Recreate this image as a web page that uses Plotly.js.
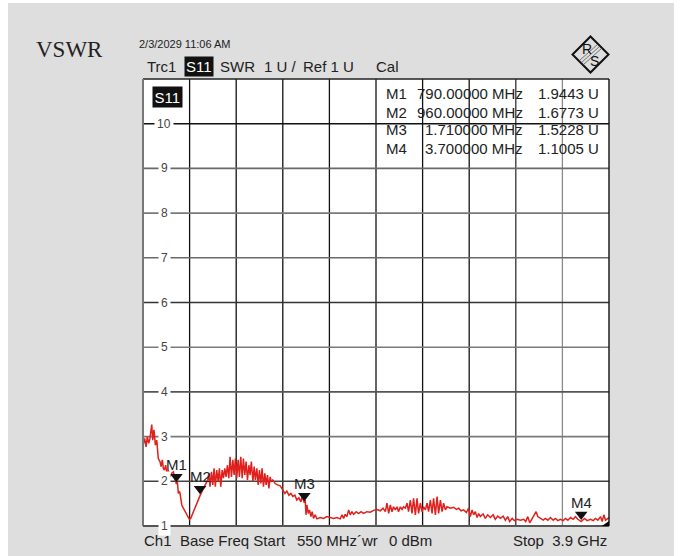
<!DOCTYPE html>
<html>
<head>
<meta charset="utf-8">
<script src="https://cdn.plot.ly/plotly-3.0.1.min.js"></script>
<style>html,body{margin:0;padding:0;background:#fff;}#chart{width:690px;height:556px;}</style>
</head>
<body>
<div id="chart"></div>
<script>
// ---- data ----
const startMHz = 550;
const stopMHz = 3900;
const yMin = 1;
const yMax = 11;
const yTickLabels = [1, 2, 3, 4, 5, 6, 7, 8, 9, 10];

const freqMHz = [550,562,572,581,591,600,613,620,629,639,649,660,672,680,689,696,703,713,721,732,744,757,768,790,797,804,814,821,829,840,865,883,893,912,937,960,984,1003,1016,1023,1032,1042,1052,1061,1070,1080,1090,1099,1109,1119,1128,1138,1147,1157,1167,1176,1186,1196,1205,1214,1224,1234,1243,1253,1263,1272,1282,1291,1301,1311,1320,1329,1340,1349,1358,1368,1378,1387,1397,1406,1416,1426,1435,1445,1455,1464,1473,1483,1500,1517,1536,1555,1570,1584,1599,1613,1627,1642,1656,1671,1685,1694,1710,1716,1722,1728,1738,1747,1757,1766,1776,1788,1800,1824,1848,1872,1896,1920,1944,1968,1980,1992,2004,2016,2028,2040,2052,2064,2083,2100,2117,2136,2160,2184,2208,2232,2256,2275,2292,2304,2316,2328,2340,2351,2364,2376,2387,2400,2412,2423,2436,2448,2459,2472,2484,2495,2508,2520,2531,2544,2556,2567,2580,2592,2603,2616,2628,2639,2652,2664,2675,2688,2700,2711,2724,2736,2760,2783,2803,2819,2837,2855,2875,2891,2903,2916,2927,2939,2952,2963,2975,2995,3011,3028,3047,3067,3083,3100,3119,3139,3155,3172,3186,3204,3220,3240,3263,3287,3301,3316,3330,3348,3364,3376,3388,3407,3427,3443,3460,3479,3499,3515,3532,3551,3571,3587,3604,3623,3643,3659,3676,3700,3710,3724,3743,3767,3787,3803,3820,3839,3851,3863,3875,3887,3900];
const vswr = [2.80,2.96,2.77,3.00,2.85,2.96,3.27,2.92,3.15,2.81,2.92,2.51,2.44,2.33,2.48,2.29,2.25,2.36,2.18,2.25,2.10,2.18,2.21,1.94,1.99,1.73,1.77,1.66,1.47,1.40,1.25,1.15,1.17,1.32,1.51,1.68,1.84,1.95,2.03,2.18,1.88,2.21,1.92,2.29,1.88,2.25,1.99,2.29,1.88,2.25,2.07,2.29,2.10,2.36,2.07,2.55,2.10,2.48,2.14,2.51,2.07,2.48,2.10,2.55,2.07,2.51,2.14,2.44,2.03,2.36,2.14,2.44,1.99,2.33,2.03,2.29,1.92,2.25,1.95,2.29,1.88,2.18,1.92,2.14,1.84,2.10,1.99,2.03,1.95,1.92,1.90,1.81,1.73,1.78,1.69,1.73,1.66,1.69,1.58,1.63,1.54,1.66,1.52,1.58,1.25,1.47,1.28,1.36,1.21,1.32,1.17,1.25,1.16,1.19,1.17,1.21,1.19,1.17,1.19,1.16,1.25,1.17,1.26,1.21,1.36,1.25,1.32,1.26,1.32,1.28,1.32,1.28,1.32,1.31,1.35,1.37,1.34,1.40,1.32,1.51,1.28,1.47,1.32,1.43,1.36,1.43,1.32,1.43,1.37,1.43,1.40,1.51,1.32,1.58,1.28,1.62,1.25,1.62,1.28,1.51,1.32,1.43,1.36,1.51,1.32,1.58,1.28,1.62,1.25,1.66,1.28,1.58,1.32,1.51,1.36,1.43,1.40,1.42,1.37,1.40,1.34,1.36,1.30,1.40,1.21,1.36,1.25,1.32,1.19,1.28,1.21,1.27,1.17,1.25,1.19,1.25,1.15,1.22,1.17,1.22,1.13,1.21,1.10,1.17,1.12,1.15,1.13,1.15,1.10,1.21,1.07,1.17,1.28,1.32,1.21,1.17,1.13,1.17,1.13,1.19,1.13,1.17,1.12,1.15,1.12,1.17,1.13,1.19,1.15,1.21,1.15,1.10,1.13,1.17,1.12,1.15,1.12,1.17,1.13,1.21,1.10,1.25,1.13,1.15,1.19];

const markerNames = ["M1", "M2", "M3", "M4"];
const markerFreqMHz = [790, 960, 1710, 3700];
const markerVals = [1.9443, 1.6773, 1.5228, 1.1005];
const markerFreqText = ["790.00000 MHz", "960.00000 MHz", "1.710000 MHz", "3.700000 MHz"];
const markerValText = ["1.9443 U", "1.6773 U", "1.5228 U", "1.1005 U"];

// ---- layout helpers (pixel -> paper) ----
const L = 143, R = 81, T = 79, B = 30, WW = 690, HH = 556;
const PW = WW - L - R, PH = HH - T - B;
const PX = x => (x - L) / PW;
const PY = y => (HH - B - y) / PH;
const SANS = "Liberation Sans, Arial, sans-serif";
const pxPerU = PH / (yMax - yMin);

const shapes = [];
const annotations = [];

// white strips around the gray sheet
shapes.push({type:'rect', xref:'paper', yref:'paper', x0:PX(0), x1:PX(8), y0:PY(HH+10), y1:PY(-10), fillcolor:'#fff', line:{width:0}, layer:'below'});
shapes.push({type:'rect', xref:'paper', yref:'paper', x0:PX(0), x1:PX(WW), y0:PY(3), y1:PY(-10), fillcolor:'#fff', line:{width:0}, layer:'below'});
shapes.push({type:'rect', xref:'paper', yref:'paper', x0:PX(674), x1:PX(WW+10), y0:PY(HH+10), y1:PY(-10), fillcolor:'#fff', line:{width:0}, layer:'below'});

// grid lines
const nDiv = 10;
const vColors = ['#111','#111','#111','#111','#111','#111','#111','#333','#8a8a8a'];
for (let i = 1; i < nDiv; i++) {
  const f = startMHz + (stopMHz - startMHz) * i / nDiv;
  shapes.push({type:'line', xref:'x', yref:'paper', x0:f, x1:f, y0:0, y1:1, line:{color:vColors[i-1], width:1.3}, layer:'below'});
}
const hColors = {2:'#444',3:'#7a7a7a',4:'#555',5:'#7a7a7a',6:'#333',7:'#6a6a6a',8:'#7a7a7a',9:'#6a6a6a',10:'#111'};
for (let v = 2; v <= 10; v++) {
  shapes.push({type:'line', xref:'paper', yref:'y', x0:0, x1:1, y0:v, y1:v, line:{color:hColors[v], width:1.6}, layer:'below'});
}
// frame
shapes.push({type:'line', xref:'paper', yref:'paper', x0:0, x1:1, y0:1, y1:1, line:{color:'#222', width:1.4}});
shapes.push({type:'line', xref:'paper', yref:'paper', x0:1, x1:1, y0:0, y1:1, line:{color:'#111', width:1.4}});
shapes.push({type:'line', xref:'paper', yref:'paper', x0:0, x1:0, y0:0, y1:1, line:{color:'#777', width:2}});
shapes.push({type:'line', xref:'paper', yref:'paper', x0:0, x1:1, y0:0, y1:0, line:{color:'#555', width:2}});
// small corner indicator
shapes.push({type:'path', xref:'paper', yref:'paper', path:`M ${PX(602)} ${PY(526)} L ${PX(609)} ${PY(526)} L ${PX(609)} ${PY(521)} Z`, fillcolor:'#000', line:{width:0}});

// R&S logo
const cx = 590.5, cy = 54.5, hr = 18;
shapes.push({type:'path', xref:'paper', yref:'paper', path:`M ${PX(cx)} ${PY(cy-hr)} L ${PX(cx+hr)} ${PY(cy)} L ${PX(cx)} ${PY(cy+hr)} L ${PX(cx-hr)} ${PY(cy)} Z`, fillcolor:'rgba(0,0,0,0)', line:{color:'#111', width:2}});
[-2, 0, 2].forEach(d => {
  shapes.push({type:'line', xref:'paper', yref:'paper', x0:PX(cx-9+d), y0:PY(cy+8+d), x1:PX(cx+9+d), y1:PY(cy-8+d), line:{color:'#555', width:0.8}});
});
annotations.push({xref:'paper', yref:'paper', x:PX(cx-4), y:PY(cy-5), xanchor:'center', yanchor:'middle', text:'R', showarrow:false, font:{family:SANS, size:14, color:'#111'}});
annotations.push({xref:'paper', yref:'paper', x:PX(cx+4), y:PY(cy+6), xanchor:'center', yanchor:'middle', text:'S', showarrow:false, font:{family:SANS, size:14, color:'#111'}});

function txt(x, y, text, size, opts) {
  annotations.push(Object.assign({xref:'paper', yref:'paper', x:PX(x), y:PY(y), text:text, showarrow:false,
    xanchor:'left', yanchor:'middle', font:{family:SANS, size:size, color:'#222'}, borderpad:0}, opts || {}));
}

// header
txt(35, 50, 'VSWR', 23, {font:{family:'Liberation Serif, Times New Roman, serif', size:23, color:'#222'}});
txt(138, 44, '2/3/2029 11:06 AM', 11);
txt(146, 66, 'Trc1', 15);
txt(184, 66, 'S11', 15, {bgcolor:'#111', font:{family:SANS, size:15, color:'#fff'}, borderpad:1});
txt(219, 66, 'SWR', 15);
txt(263, 66, '1 U /', 15);
txt(302, 66, 'Ref 1 U', 15);
txt(375, 66, 'Cal', 15);
txt(152, 97, 'S11', 15, {bgcolor:'#111', font:{family:SANS, size:15, color:'#fff'}, borderpad:1.5});

// marker table
const rowY = [94, 112, 130, 148];
markerNames.forEach((m, i) => {
  txt(385, rowY[i], m, 15);
  txt(524, rowY[i], markerFreqText[i], 15, {xanchor:'right'});
  txt(600, rowY[i], markerValText[i], 15, {xanchor:'right'});
});

// y tick labels
yTickLabels.forEach(v => {
  annotations.push({xref:'paper', yref:'y', x:PX(164), y:v, text:String(v), showarrow:false,
    xanchor:'center', yanchor:'middle', bgcolor:'#fff', borderpad:2, font:{family:SANS, size:12, color:'#444'}});
});

// marker labels
markerNames.forEach((m, i) => {
  annotations.push({xref:'x', yref:'y', x:markerFreqMHz[i], y:markerVals[i], text:m, showarrow:false,
    xanchor:'center', yanchor:'middle', yshift:19, font:{family:SANS, size:15, color:'#222'}});
});

// footer
txt(143, 540, 'Ch1', 15);
txt(179, 540, 'Base Freq Start', 15);
txt(296, 540, '550 MHz\u00B4wr', 15);
txt(388, 540, '0 dBm', 15);
txt(608, 540, 'Stop  3.9 GHz', 15, {xanchor:'right'});

const traces = [
  {x:freqMHz, y:vswr, type:'scatter', mode:'lines', line:{color:'#e0201c', width:1.5}, hoverinfo:'skip'},
  {x:markerFreqMHz, y:markerVals.map(v => v + 7 / pxPerU), type:'scatter', mode:'markers',
   marker:{symbol:'triangle-down', size:11, color:'#111'}, hoverinfo:'skip'}
];

const layout = {
  width: WW, height: HH,
  margin: {l:L, r:R, t:T, b:B, pad:0},
  paper_bgcolor: '#dedede',
  plot_bgcolor: '#ffffff',
  showlegend: false,
  xaxis: {range:[startMHz, stopMHz], showgrid:false, zeroline:false, showticklabels:false, ticks:'', showline:false, fixedrange:true},
  yaxis: {range:[yMin, yMax], showgrid:false, zeroline:false, showticklabels:false, ticks:'', showline:false, fixedrange:true},
  shapes: shapes,
  annotations: annotations
};

Plotly.newPlot('chart', traces, layout, {displayModeBar:false, staticPlot:true});
</script>
</body>
</html>
